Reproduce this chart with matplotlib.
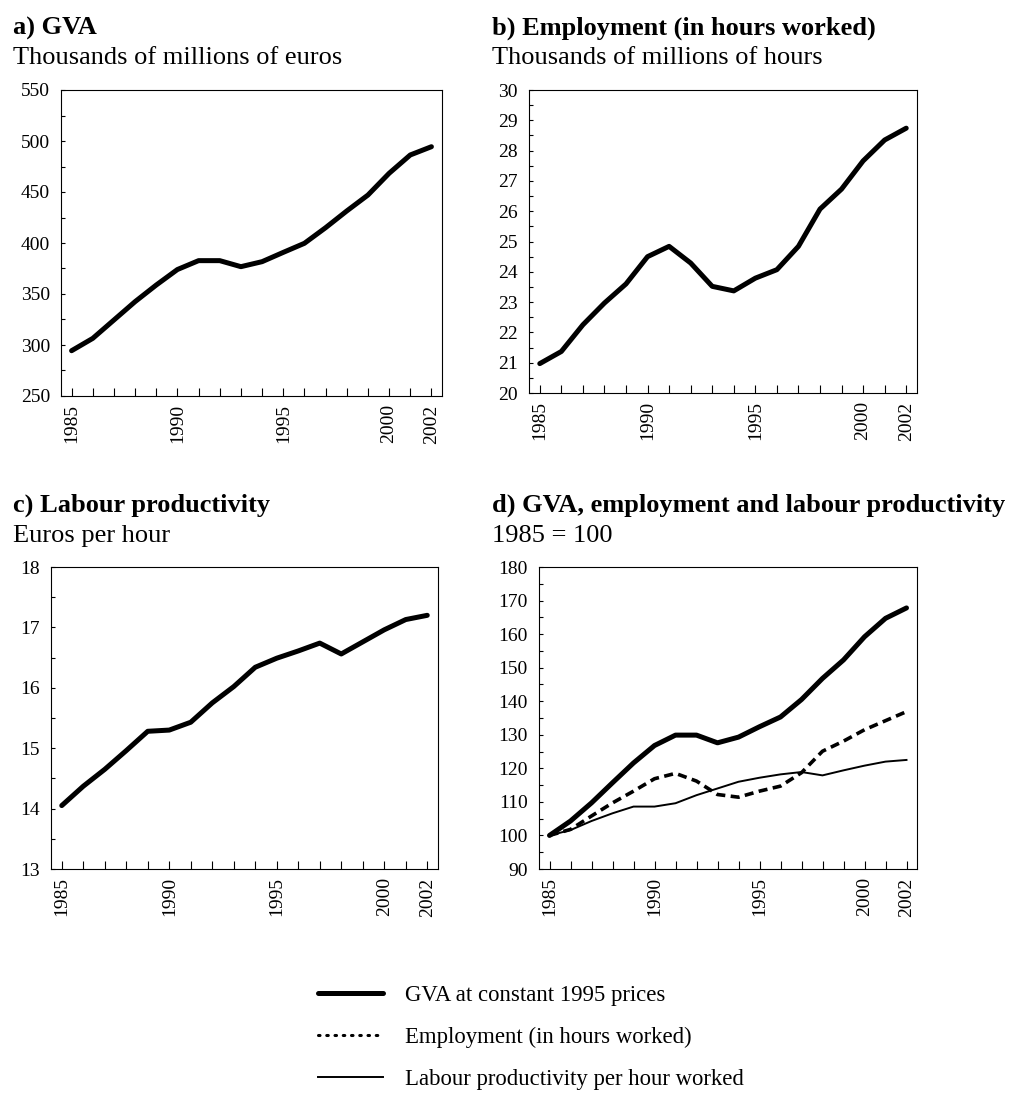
import numpy as np
import matplotlib
matplotlib.use("Agg")
import matplotlib.pyplot as plt
from matplotlib.lines import Line2D
from matplotlib.ticker import MultipleLocator

plt.rcParams['font.family'] = ['Liberation Serif', 'DejaVu Serif']

# data
years = list(range(1985, 2003))
shown_years = [1985, 1990, 1995, 2000, 2002]

gva = [294.4, 306.5, 324.5, 342.5, 358.8, 374.0, 382.7, 382.7, 376.8, 381.7,
       390.8, 399.7, 415.0, 431.4, 447.0, 468.3, 486.3, 494.4]
hours = [20.97, 21.37, 22.25, 22.97, 23.60, 24.50, 24.84, 24.29, 23.52, 23.37,
         23.79, 24.07, 24.84, 26.07, 26.73, 27.66, 28.35, 28.74]
productivity = [14.05, 14.37, 14.65, 14.96, 15.28, 15.30, 15.43, 15.75, 16.02, 16.34,
                16.49, 16.61, 16.74, 16.56, 16.76, 16.96, 17.13, 17.20]

gva_idx = [100.0, 104.3, 109.7, 115.7, 121.6, 126.8, 129.9, 129.9, 127.6, 129.3,
           132.4, 135.3, 140.5, 146.8, 152.3, 159.2, 164.7, 167.8]
hours_idx = [100.0, 101.8, 105.8, 109.7, 113.2, 116.9, 118.5, 116.2, 112.2, 111.4,
             113.2, 114.7, 118.7, 125.1, 128.1, 131.5, 134.2, 136.9]
prod_idx = [100.0, 101.6, 104.3, 106.6, 108.6, 108.6, 109.6, 112.0, 114.0, 116.0,
            117.2, 118.2, 118.9, 117.9, 119.4, 120.8, 122.0, 122.5]

titles = ['a) GVA', 'b) Employment (in hours worked)',
          'c) Labour productivity', 'd) GVA, employment and labour productivity']
subtitles = ['Thousands of millions of euros', 'Thousands of millions of hours',
             'Euros per hour', '1985 = 100']
legend_labels = ['GVA at constant 1995 prices', 'Employment (in hours worked)',
                 'Labour productivity per hour worked']

W, H = 1015, 1093
fig = plt.figure(figsize=(W / 100, H / 100), dpi=100)


def px_axes(left, top, right, bottom):
    return fig.add_axes([left / W, 1 - bottom / H, (right - left) / W, (bottom - top) / H])


def style_axes(ax, ylim, major, minor):
    ax.set_xlim(1984.5, 2002.5)
    ax.set_ylim(*ylim)
    ax.yaxis.set_major_locator(MultipleLocator(major))
    ax.yaxis.set_minor_locator(MultipleLocator(minor))
    ax.set_xticks(years)
    ax.set_xticklabels([str(y) if y in shown_years else '' for y in years], rotation=90)
    ax.tick_params(axis='x', direction='in', length=5.5, width=0.8, pad=6, labelsize=14)
    ax.tick_params(axis='y', which='both', direction='in', length=3, width=0.8, pad=8,
                   labelsize=14)
    for s in ax.spines.values():
        s.set_linewidth(0.8)


thick = dict(color='black', lw=3.6, solid_capstyle='round', solid_joinstyle='round')

ax_a = px_axes(61, 90, 442, 396)
ax_a.plot(years, gva, **thick)
style_axes(ax_a, (250, 550), 50, 25)

ax_b = px_axes(529, 90, 917, 393)
ax_b.plot(years, hours, **thick)
style_axes(ax_b, (20, 30), 1, 0.5)

ax_c = px_axes(51, 567, 438, 869)
ax_c.plot(years, productivity, **thick)
style_axes(ax_c, (13, 18), 1, 0.5)

ax_d = px_axes(539, 567, 917, 869)
ax_d.plot(years, gva_idx, **thick)
ax_d.plot(years, hours_idx, color='black', lw=2.6, linestyle=(0, (2.5, 1.5)),
          dash_capstyle='butt')
ax_d.plot(years, prod_idx, color='black', lw=1.4, solid_joinstyle='round')
style_axes(ax_d, (90, 180), 10, 5)

# panel titles
title_pos = [(13, 35, 64), (492, 35, 64), (13, 512, 542), (492, 512, 542)]
for (x, ty, sy), t, s in zip(title_pos, titles, subtitles):
    fig.text(x / W, 1 - ty / H, t, fontsize=19, fontweight='bold', va='baseline')
    fig.text(x / W, 1 - sy / H, s, fontsize=19, va='baseline')

handles = [Line2D([], [], color='black', lw=3.6, solid_capstyle='round'),
           Line2D([], [], color='black', lw=2.2, linestyle=(0, (0.5, 2.2)),
                  dash_capstyle='round'),
           Line2D([], [], color='black', lw=1.4)]
fig.legend(handles, legend_labels, loc='upper left',
           bbox_to_anchor=(318 / W, 1 - 985 / H), frameon=False,
           fontsize=16.4, handlelength=2.85, handletextpad=0.95,
           labelspacing=0.92, borderpad=0, borderaxespad=0)

fig.savefig('out.png', dpi=100)
